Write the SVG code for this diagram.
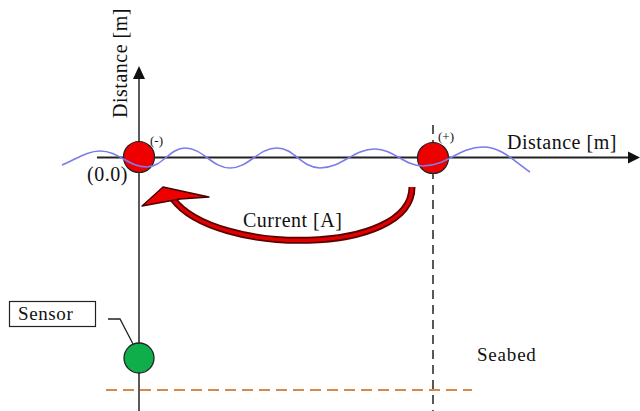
<svg xmlns="http://www.w3.org/2000/svg" width="640" height="411" viewBox="0 0 640 411">
<style>
text{font-family:"Liberation Serif","Times New Roman",serif;fill:#111}
.lbl{font-size:20px;letter-spacing:0.5px}
.sm{font-size:13px}
.elec{fill:#ee0000;stroke:#222;stroke-width:1.2}
.ax{stroke:#222;fill:none}
</style>
<rect width="640" height="411" fill="#fff"/>
<g id="connectors">
  <line class="ax" x1="139" y1="76" x2="139" y2="411" stroke-width="1.5"/>
  <polygon points="139,66 133,79 145,79" fill="#111"/>
  <line class="ax" x1="97" y1="157.5" x2="631" y2="157.5" stroke-width="2"/>
  <polygon points="640,157.5 628,151.5 628,163.5" fill="#111"/>
  <line x1="433" y1="125" x2="433" y2="411" stroke="#222" stroke-width="1.5" stroke-dasharray="9,6"/>
  <line x1="106" y1="390" x2="472" y2="390" stroke="#d8894a" stroke-width="2" stroke-dasharray="11,6"/>
  <path d="M108,319 H120 L133,344" fill="none" stroke="#222" stroke-width="1.3"/>
  <g id="current">
    <path d="M412,187 C412,256 215,256 173,199" fill="none" stroke="#5a0000" stroke-width="7"/>
    <path d="M412,187 C412,256 215,256 173,199" fill="none" stroke="#e00000" stroke-width="3.5"/>
    <polygon points="142,206 163,187 209,197 180,199" fill="#ee0000" stroke="#400" stroke-width="1.3" stroke-linejoin="round"/>
  </g>
</g>
<g id="electrode-neg">
  <circle class="elec" cx="139" cy="157" r="15.5"/>
  <text class="sm" x="150" y="145">(-)</text>
</g>
<g id="electrode-pos">
  <circle class="elec" cx="433" cy="158" r="15.5"/>
  <text class="sm" x="438" y="141">(+)</text>
</g>
<g id="wave">
  <path d="M62,165 C78,158 88,151 100,151 C119,151 128,167 147,167 C162,167 170,148 185,148 C203,148 212,168 230,168 C249,168 258,148 277,148 C294,148 302,168 320,168 C342,168 353,149 375,149 C394,149 404,166 423,166 C447,166 459,147 483,147 C502,147 515,162 530,172" fill="none" stroke="#7b7bea" stroke-width="1.6"/>
</g>
<g id="sensor">
  <circle cx="139" cy="358" r="15" fill="#0fae4a" stroke="#222" stroke-width="1.3"/>
</g>
<g id="sensor-label">
  <rect x="9.5" y="301.5" width="86" height="25" fill="#fff" stroke="#222" stroke-width="1.2"/>
  <text x="18" y="320" style="font-size:19px;letter-spacing:0.6px">Sensor</text>
</g>
<g id="labels">
  <text class="lbl" x="507" y="149">Distance [m]</text>
  <text class="lbl" transform="translate(127,63) rotate(-90)" text-anchor="middle">Distance [m]</text>
  <text class="lbl" x="87" y="181">(0.0)</text>
  <text class="lbl" x="243" y="227">Current [A]</text>
  <text x="477" y="361" style="font-size:19px;letter-spacing:0.8px">Seabed</text>
</g>
</svg>
